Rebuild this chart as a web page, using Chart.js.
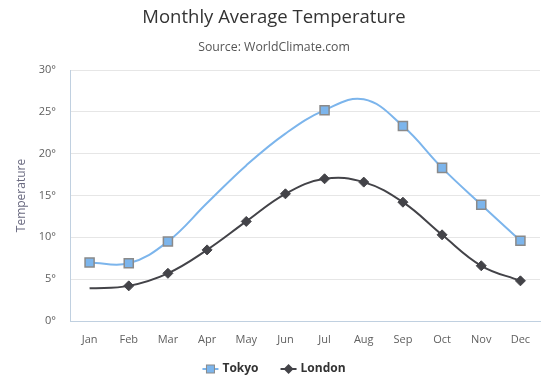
<!DOCTYPE html>
<html>
<head>
<meta charset="utf-8">
<script src="https://cdn.jsdelivr.net/npm/chart.js@4/dist/chart.umd.min.js"></script>
<style>
html,body{margin:0;padding:0;background:#fff;}
#wrap{width:557px;height:381px;position:relative;}
</style>
</head>
<body>
<div id="wrap"><canvas id="c" width="557" height="381"></canvas></div>
<script>
const categories = ['Jan','Feb','Mar','Apr','May','Jun','Jul','Aug','Sep','Oct','Nov','Dec'];
const tokyo = [7.0, 6.9, 9.5, 14.1, 18.6, 22.4, 25.2, 26.5, 23.3, 18.3, 13.9, 9.6];
const london = [3.9, 4.2, 5.7, 8.5, 11.9, 15.2, 17.0, 16.6, 14.2, 10.3, 6.6, 4.8];
const tokyoNoMarker = [3, 4, 5, 7];
const londonNoMarker = [0];
const yTicks = [0, 5, 10, 15, 20, 25, 30];
const seriesNames = ['Tokyo', 'London'];
const titleText = 'Monthly Average Temperature';
const subtitleText = 'Source: WorldClimate.com';

const FONT = "'Open Sans', Lato, sans-serif";
const TOKYO_C = '#7cb5ec';
const LONDON_C = '#434348';

function drawSymbol(g, kind, color, cx, cy) {
  g.save();
  g.strokeStyle = color; g.lineWidth = 2;
  g.beginPath(); g.moveTo(cx - 8, cy); g.lineTo(cx + 8, cy); g.stroke();
  if (kind === 'square') {
    g.fillStyle = color; g.fillRect(cx - 4, cy - 4, 8, 8);
    g.strokeStyle = '#8a8a8a'; g.lineWidth = 1; g.strokeRect(cx - 4, cy - 4, 8, 8);
  } else {
    g.fillStyle = color; g.beginPath();
    g.moveTo(cx, cy - 5); g.lineTo(cx + 5, cy); g.lineTo(cx, cy + 5); g.lineTo(cx - 5, cy); g.closePath(); g.fill();
  }
  g.restore();
}

const textPlugin = {
  id: 'hcText',
  afterDraw(chart) {
    const g = chart.ctx;
    g.save();
    g.textBaseline = 'middle';
    g.textAlign = 'center';
    g.fillStyle = '#333333';
    g.font = "18.5px " + FONT;
    g.fillText(titleText, 274, 18);
    g.fillStyle = '#555555';
    g.font = "12.3px " + FONT;
    g.fillText(subtitleText, 274, 47);

    g.textAlign = 'left';
    g.font = "bold 12px " + FONT;
    g.fillStyle = '#333333';
    const kinds = ['square', 'diamond'];
    const colors = [TOKYO_C, LONDON_C];
    const iconW = 16, gap = 4, itemGap = 22;
    const widths = seriesNames.map(t => iconW + gap + g.measureText(t).width);
    const total = widths.reduce((a, b) => a + b, 0) + itemGap * (widths.length - 1);
    let x = 274 - total / 2;
    const y = 369;
    seriesNames.forEach((t, i) => {
      drawSymbol(g, kinds[i], colors[i], x + iconW / 2, y);
      g.fillText(t, x + iconW + gap, y);
      x += widths[i] + itemGap;
    });
    g.restore();
  }
};

new Chart(document.getElementById('c'), {
  type: 'line',
  data: {
    labels: categories,
    datasets: [
      {
        label: seriesNames[0], data: tokyo,
        borderColor: TOKYO_C, backgroundColor: TOKYO_C, borderWidth: 2,
        tension: 0.4, pointStyle: 'rect',
        pointRadius: ctx => tokyoNoMarker.includes(ctx.dataIndex) ? 0 : 6.4,
        pointHoverRadius: 0,
        pointBackgroundColor: TOKYO_C, pointBorderColor: '#8a8a8a', pointBorderWidth: 1.5
      },
      {
        label: seriesNames[1], data: london,
        borderColor: LONDON_C, backgroundColor: LONDON_C, borderWidth: 2,
        tension: 0.4, pointStyle: 'rectRot',
        pointRadius: ctx => londonNoMarker.includes(ctx.dataIndex) ? 0 : 5,
        pointHoverRadius: 0,
        pointBackgroundColor: LONDON_C, pointBorderColor: LONDON_C, pointBorderWidth: 1
      }
    ]
  },
  plugins: [textPlugin],
  options: {
    responsive: false,
    animation: false,
    events: [],
    layout: { padding: { left: 0, right: 17, top: 70, bottom: 28 } },
    plugins: {
      tooltip: { enabled: false },
      legend: { display: false },
      title: { display: false },
      subtitle: { display: false }
    },
    scales: {
      x: {
        offset: true,
        grid: { display: false },
        border: { display: true, color: '#C0D0E0', width: 1 },
        ticks: { color: '#606060', font: { family: FONT, size: 11 }, padding: 4, maxRotation: 0 },
        afterFit: s => { s.height = 32; }
      },
      y: {
        min: 0, max: 30,
        afterBuildTicks: s => { s.ticks = yTicks.map(v => ({ value: v })); },
        grid: { color: '#e6e6e6', drawTicks: false },
        border: { display: true, color: '#C0D0E0', width: 1 },
        ticks: { color: '#606060', font: { family: FONT, size: 11 }, padding: 14, callback: v => v + '°' },
        title: { display: true, text: 'Temperature', color: '#6a6a80', font: { family: FONT, size: 12 }, padding: { top: 14, bottom: 0 } },
        afterFit: s => { s.width = 70; }
      }
    }
  }
});
</script>
</body>
</html>
